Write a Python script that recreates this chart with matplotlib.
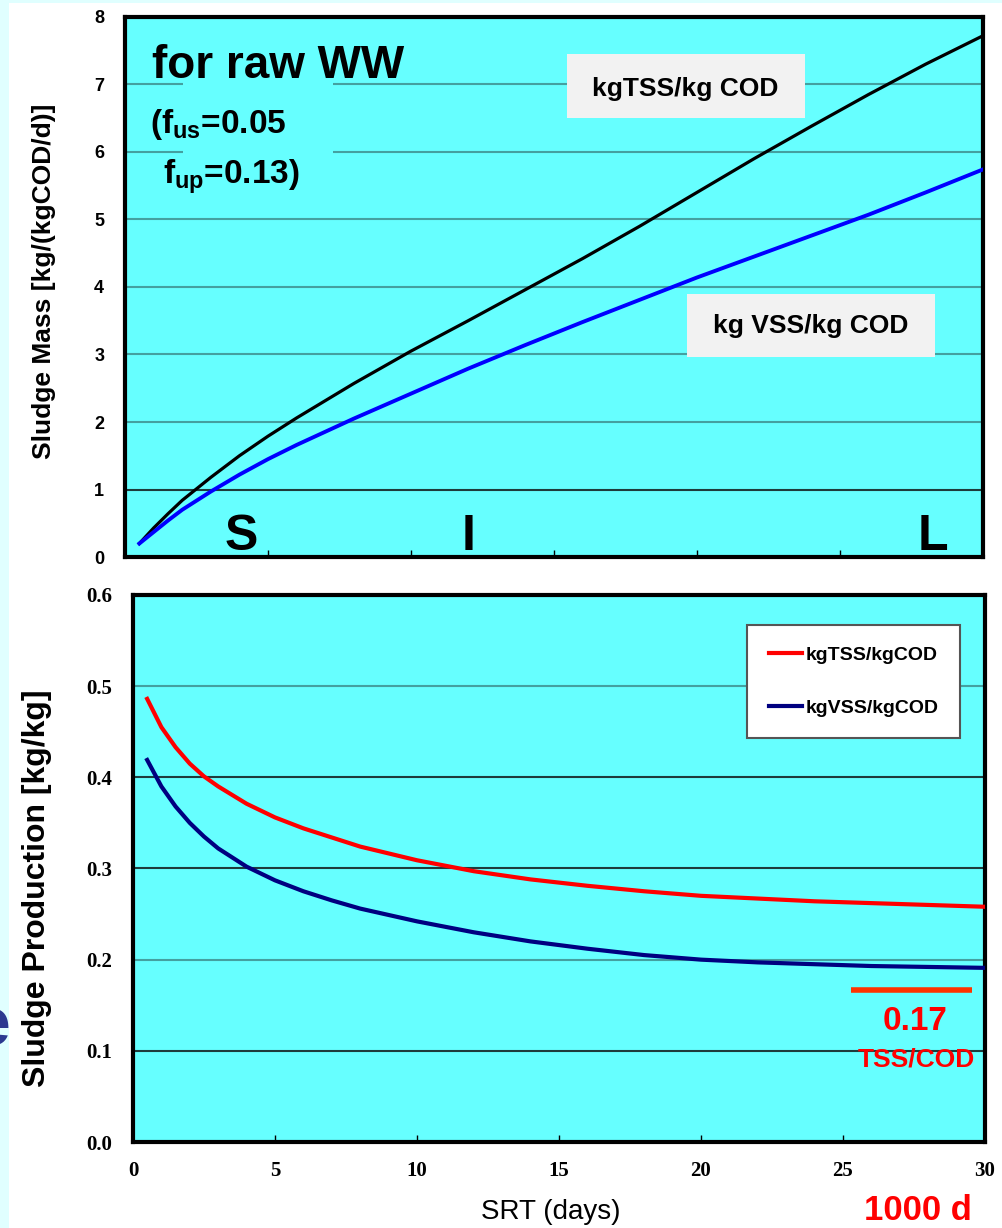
import matplotlib
matplotlib.use('Agg')
import matplotlib.pyplot as plt
from matplotlib.patches import Rectangle

plt.rcParams['font.family'] = ['Liberation Sans', 'DejaVu Sans']
plt.rcParams['mathtext.fontset'] = 'custom'
plt.rcParams['mathtext.rm'] = 'Liberation Sans:bold'
plt.rcParams['mathtext.default'] = 'rm'

# --- data ---
srt_mass = [0.5, 1, 1.5, 2, 3, 4, 5, 6, 8, 10, 12, 14, 16, 18, 20, 22, 24, 26, 28, 30]
mass_tss = [0.2, 0.43, 0.64, 0.84, 1.18, 1.5, 1.79, 2.06, 2.57, 3.05, 3.5, 3.96, 4.42, 4.9, 5.4, 5.9, 6.38, 6.85, 7.3, 7.72]
mass_vss = [0.2, 0.37, 0.54, 0.7, 0.97, 1.22, 1.45, 1.66, 2.05, 2.42, 2.79, 3.14, 3.48, 3.81, 4.14, 4.45, 4.76, 5.07, 5.4, 5.74]

srt_prod = [0.5, 1, 1.5, 2, 2.5, 3, 4, 5, 6, 7, 8, 10, 12, 14, 16, 18, 20, 22, 24, 26, 28, 30]
prod_tss = [0.486, 0.455, 0.433, 0.415, 0.401, 0.39, 0.371, 0.356, 0.344, 0.334, 0.324, 0.309, 0.297, 0.288, 0.281, 0.275, 0.27, 0.267, 0.264, 0.262, 0.26, 0.258]
prod_vss = [0.419, 0.39, 0.368, 0.35, 0.335, 0.322, 0.302, 0.287, 0.275, 0.265, 0.256, 0.242, 0.23, 0.22, 0.212, 0.205, 0.2, 0.197, 0.195, 0.193, 0.192, 0.191]

long_srt_tss = 0.167      # level of the red mark (0.17 TSS/COD at 1000 d)
mass_labels = ['S', 'I', 'L']
mass_label_x = [4.06, 12.0, 28.25]

cyan = '#66ffff'
teal = '#44a0a0'
dark = '#1e3c3c'

fig = plt.figure(figsize=(10.02, 12.28), dpi=100, facecolor='#e0ffff')
fig.patches.append(Rectangle((9 / 1002, 0), 1, 1 - 3 / 1228, transform=fig.transFigure,
                             facecolor='white', edgecolor='none', zorder=-10))

# ---------------- top panel: sludge mass ----------------
ax1 = fig.add_axes([0.1248, 0.5464, 0.856, 0.4398])
ax1.set_facecolor(cyan)
ax1.set_xlim(0, 30)
ax1.set_ylim(0, 8)
top_grid = [dark, teal, teal, teal, teal, teal, teal]
for y, c in zip(range(1, 8), top_grid):
    ax1.axhline(y, color=c, lw=1.5, zorder=1)
ax1.add_patch(Rectangle((2.03, 5.3), 5.24, 2.3, facecolor=cyan, edgecolor='none', zorder=1.5))

ax1.plot(srt_mass, mass_tss, color='black', lw=2.3, zorder=4)
ax1.plot(srt_mass, mass_vss, color='#0000ff', lw=2.8, zorder=4)

ax1.set_xticks([5, 10, 15, 20, 25])
ax1.set_yticks(range(0, 9))
ax1.tick_params(axis='x', direction='in', length=5, width=1, labelbottom=False)
ax1.tick_params(axis='y', length=0, pad=15, labelsize=13)
for lab in ax1.get_yticklabels():
    lab.set_fontweight('bold')
for s in ax1.spines.values():
    s.set_linewidth(3)

ax1.text(0.94, 7.1, 'for raw WW', fontsize=33, fontweight='bold', zorder=5)
ax1.text(0.87, 6.28, r'(f$_{us}$=0.05', fontsize=24, fontweight='bold', zorder=5)
ax1.text(1.33, 5.53, r'f$_{up}$=0.13)', fontsize=24, fontweight='bold', zorder=5)

ax1.add_patch(Rectangle((15.45, 6.5), 8.33, 0.95, facecolor='#f2f2f2', edgecolor='none', zorder=3))
ax1.text(19.6, 6.93, 'kgTSS/kg COD', fontsize=19, fontweight='bold', ha='center', va='center', zorder=5)
ax1.add_patch(Rectangle((19.65, 2.96), 8.67, 0.94, facecolor='#f2f2f2', edgecolor='none', zorder=3))
ax1.text(23.99, 3.42, 'kg VSS/kg COD', fontsize=19, fontweight='bold', ha='center', va='center', zorder=5)

for lab, xp in zip(mass_labels, mass_label_x):
    ax1.text(xp, 0.1, lab, fontsize=36, fontweight='bold', ha='center', va='baseline', zorder=5)

fig.text(44 / 1002, 1 - 281 / 1228, 'Sludge Mass [kg/(kgCOD/d)]', rotation=90,
         ha='center', va='center', fontsize=19, fontweight='bold')

# ---------------- bottom panel: sludge production ----------------
ax2 = fig.add_axes([0.1327, 0.07003, 0.8503, 0.4455])
ax2.set_facecolor(cyan)
ax2.set_xlim(0, 30)
ax2.set_ylim(0, 0.6)
bot_levels = [0.1, 0.2, 0.3, 0.4, 0.5]
bot_grid = [dark, teal, dark, dark, teal]
for y, c in zip(bot_levels, bot_grid):
    ax2.axhline(y, color=c, lw=1.5, zorder=1)

ax2.plot(srt_prod, prod_tss, color='#ff0000', lw=3, zorder=4, label='kgTSS/kgCOD')
ax2.plot(srt_prod, prod_vss, color='#000080', lw=3, zorder=4, label='kgVSS/kgCOD')

serif_bold = {'family': ['Liberation Serif', 'DejaVu Serif'], 'weight': 'bold', 'size': 15}
ax2.set_xticks(range(0, 31, 5))
ax2.set_yticks([0.0, 0.1, 0.2, 0.3, 0.4, 0.5, 0.6])
ax2.set_yticklabels(['0.0', '0.1', '0.2', '0.3', '0.4', '0.5', '0.6'], fontdict=serif_bold)
ax2.set_xticklabels([str(v) for v in range(0, 31, 5)], fontdict=serif_bold)
ax2.tick_params(axis='x', direction='in', length=5, width=1, pad=14)
ax2.tick_params(axis='y', length=0, pad=15)
for s in ax2.spines.values():
    s.set_linewidth(3)

leg = ax2.legend(loc='upper right', bbox_to_anchor=(0.9707, 0.945), borderaxespad=0,
                 prop={'family': ['Liberation Sans', 'DejaVu Sans'], 'weight': 'bold', 'size': 14},
                 frameon=True, fancybox=False, framealpha=1, edgecolor='#555555',
                 handlelength=1.7, handletextpad=0.2, labelspacing=1.8, borderpad=1.1)
leg.get_frame().set_linewidth(1.5)
leg.set_zorder(6)

ax2.hlines(long_srt_tss, 25.3, 29.54, color='#ff3300', lw=4, zorder=5)
ax2.text(27.55, 0.132, '0.17', color='#ff0000', fontsize=24, fontweight='bold',
         ha='center', va='center', zorder=5)
ax2.text(27.6, 0.09, 'TSS/COD', color='#ff0000', fontsize=19, fontweight='bold',
         ha='center', va='center', zorder=5)

fig.text(551 / 1002, 1 - 1212 / 1228, 'SRT (days)', ha='center', va='center', fontsize=20,
         family=['Liberation Sans Narrow', 'Liberation Sans', 'DejaVu Sans'])
fig.text(918 / 1002, 1 - 1210 / 1228, '1000 d', color='#ff0000', fontsize=25, fontweight='bold',
         ha='center', va='center')
fig.text(37 / 1002, 1 - 888 / 1228, 'Sludge Production [kg/kg]', rotation=90,
         ha='center', va='center', fontsize=23, fontweight='bold')
fig.text(10 / 1002, 1 - 1028 / 1228, 'e', color='#2b3990', fontsize=50, fontweight='bold',
         ha='right', va='center')

fig.savefig('out.png', dpi=100, facecolor=fig.get_facecolor())
